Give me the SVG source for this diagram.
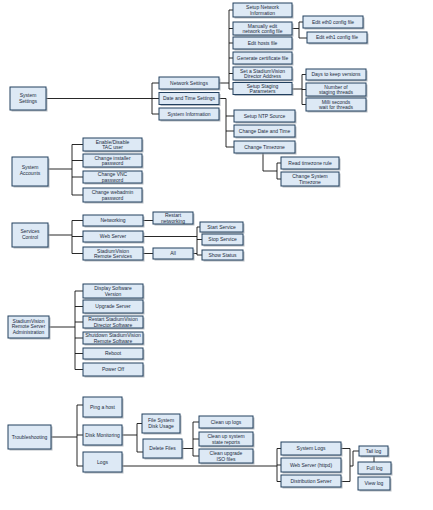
<svg xmlns="http://www.w3.org/2000/svg" width="433" height="510" viewBox="0 0 433 510">
<defs>
<style>
.b{fill:#dde9f5;stroke:#22405f;stroke-width:1}
.s{fill:#9aa3ad;opacity:0.7}
text{font-family:"Liberation Sans",Arial,sans-serif;font-size:5px;fill:#1c2b3d;text-anchor:middle}
.c path{fill:none;stroke:#111;stroke-width:0.9}
</style>
</defs>
<rect width="433" height="510" fill="#fff"/>
<g class="c" id="connectors">
<path d="M46,98.5H152M152,83V114M152,83H159M152,98.5H159M152,114H159"/>
<path d="M219,83H229M229,10V89M229,10H233M229,28.5H233M229,43H233M229,58H233M229,73.5H233M229,89H233"/>
<path d="M292,28.5H299M299,22V38M299,22H303M299,38H307"/>
<path d="M292,89H302M302,74.5V104.5M302,74.5H306M302,89.5H306M302,104.5H306"/>
<path d="M219,98.5H226M226,98.5V147M226,116H234M226,131H234M226,147H234"/>
<path d="M263,153V171H277M277,163V179M277,163H281M277,179H281"/>
<path d="M48,169H72M72,144.5V195M72,144.5H83M72,160.5H83M72,177H83M72,195H83"/>
<path d="M48,235H72M72,220.5V253.5M72,220.5H83M72,236.5H83M72,253.5H83"/>
<path d="M143,220.5H153M143,236.5H197M143,253.5H153M193,253.5H197M197,227V255M197,227H200M197,239.5H202M197,255H202"/>
<path d="M49,327H75M75,291V369.5M75,291H83M75,306.5H83M75,322H83M75,338H83M75,353.5H83M75,369.5H83"/>
<path d="M51,437H77M77,405V466M77,405H83M77,435H83M77,466H83"/>
<path d="M122,435H137M137,423.5V452M137,423.5H142M137,452H143"/>
<path d="M182,448.5H193M193,422V456M193,422H199M193,439H199M193,456H199"/>
<path d="M122,466H277M277,448.5V481.5M277,448.5H281M277,465H281M277,481.5H281"/>
<path d="M341,448.5H350M341,481.5H350M350,448.5V481.5M350,466H353M353,451V466M353,451H359M374,456V462"/>
</g>
<g id="n_system_settings"><rect class="s" x="11.5" y="88.5" width="36" height="23"/><rect class="b" x="10" y="87" width="36" height="23"/><text x="28" y="97">System</text><text x="28" y="103">Settings</text></g>
<g id="n_network_settings"><rect class="s" x="160.5" y="78.5" width="60" height="12"/><rect class="b" x="159" y="77" width="60" height="12"/><text x="189" y="84.8">Network Settings</text></g>
<g id="n_date_time"><rect class="s" x="160.5" y="94" width="60" height="12"/><rect class="b" x="159" y="92.5" width="60" height="12"/><text x="189" y="100.3">Date and Time Settings</text></g>
<g id="n_system_info"><rect class="s" x="160.5" y="109.5" width="60" height="12"/><rect class="b" x="159" y="108" width="60" height="12"/><text x="189" y="115.8">System Information</text></g>
<g id="n_setup_net"><rect class="s" x="234.5" y="4.5" width="59" height="14"/><rect class="b" x="233" y="3" width="59" height="14"/><text x="262.5" y="9">Setup Network</text><text x="262.5" y="15">Information</text></g>
<g id="n_manual_edit"><rect class="s" x="234.5" y="23.5" width="59" height="13"/><rect class="b" x="233" y="22" width="59" height="13"/><text x="262.5" y="27.5">Manually edit</text><text x="262.5" y="33.3">network config file</text></g>
<g id="n_hosts"><rect class="s" x="234.5" y="38.5" width="59" height="12"/><rect class="b" x="233" y="37" width="59" height="12"/><text x="262.5" y="44.8">Edit hosts file</text></g>
<g id="n_cert"><rect class="s" x="234.5" y="53.5" width="59" height="12"/><rect class="b" x="233" y="52" width="59" height="12"/><text x="262.5" y="59.8">Generate certificate file</text></g>
<g id="n_svd_addr"><rect class="s" x="234.5" y="68.5" width="59" height="13"/><rect class="b" x="233" y="67" width="59" height="13"/><text x="262.5" y="72.5">Set a StadiumVision</text><text x="262.5" y="78.3">Director Address</text></g>
<g id="n_staging"><rect class="s" x="234.5" y="84" width="59" height="12"/><rect class="b" x="233" y="82.5" width="59" height="12"/><text x="262.5" y="87.6">Setup Staging</text><text x="262.5" y="93">Parameters</text></g>
<g id="n_eth0"><rect class="s" x="304.5" y="17.5" width="60" height="12"/><rect class="b" x="303" y="16" width="60" height="12"/><text x="333" y="23.8">Edit eth0 config file</text></g>
<g id="n_eth1"><rect class="s" x="308.5" y="33.5" width="60" height="11"/><rect class="b" x="307" y="32" width="60" height="11"/><text x="337" y="39.3">Edit eth1 config file</text></g>
<g id="n_days"><rect class="s" x="307.5" y="70.5" width="60" height="11"/><rect class="b" x="306" y="69" width="60" height="11"/><text x="336" y="76.3">Days to keep versions</text></g>
<g id="n_threads"><rect class="s" x="307.5" y="84.5" width="60" height="13"/><rect class="b" x="306" y="83" width="60" height="13"/><text x="336" y="88.5">Number of</text><text x="336" y="94.3">staging threads</text></g>
<g id="n_millis"><rect class="s" x="307.5" y="99.5" width="60" height="13"/><rect class="b" x="306" y="98" width="60" height="13"/><text x="336" y="103.5">Milli seconds</text><text x="336" y="109.3">wait for threads</text></g>
<g id="n_ntp"><rect class="s" x="235.5" y="111.5" width="61" height="12"/><rect class="b" x="234" y="110" width="61" height="12"/><text x="264.5" y="117.8">Setup NTP Source</text></g>
<g id="n_chg_date"><rect class="s" x="235.5" y="126.5" width="61" height="12"/><rect class="b" x="234" y="125" width="61" height="12"/><text x="264.5" y="132.8">Change Date and Time</text></g>
<g id="n_chg_tz"><rect class="s" x="235.5" y="142.5" width="61" height="12"/><rect class="b" x="234" y="141" width="61" height="12"/><text x="264.5" y="148.8">Change Timezone</text></g>
<g id="n_read_tz"><rect class="s" x="282.5" y="158.5" width="58" height="12"/><rect class="b" x="281" y="157" width="58" height="12"/><text x="310" y="164.8">Read timezone rule</text></g>
<g id="n_sys_tz"><rect class="s" x="282.5" y="173.5" width="58" height="14"/><rect class="b" x="281" y="172" width="58" height="14"/><text x="310" y="178">Change System</text><text x="310" y="184">Timezone</text></g>
<g id="n_sys_accounts"><rect class="s" x="13.5" y="158.5" width="36" height="29"/><rect class="b" x="12" y="157" width="36" height="29"/><text x="30" y="168.5">System</text><text x="30" y="174.5">Accounts</text></g>
<g id="n_tac"><rect class="s" x="84.5" y="139.5" width="59" height="13"/><rect class="b" x="83" y="138" width="59" height="13"/><text x="112.5" y="143.5">Enable/Disable</text><text x="112.5" y="149.3">TAC user</text></g>
<g id="n_installer"><rect class="s" x="84.5" y="155.5" width="59" height="13"/><rect class="b" x="83" y="154" width="59" height="13"/><text x="112.5" y="159.5">Change installer</text><text x="112.5" y="165.3">password</text></g>
<g id="n_vnc"><rect class="s" x="84.5" y="172.5" width="59" height="12"/><rect class="b" x="83" y="171" width="59" height="12"/><text x="112.5" y="176">Change VNC</text><text x="112.5" y="181.6">password</text></g>
<g id="n_webadmin"><rect class="s" x="84.5" y="189.5" width="59" height="14"/><rect class="b" x="83" y="188" width="59" height="14"/><text x="112.5" y="194">Change webadmin</text><text x="112.5" y="200">password</text></g>
<g id="n_services"><rect class="s" x="13.5" y="224.5" width="36" height="24"/><rect class="b" x="12" y="223" width="36" height="24"/><text x="30" y="232.5">Services</text><text x="30" y="238.5">Control</text></g>
<g id="n_networking"><rect class="s" x="84.5" y="216.5" width="60" height="11"/><rect class="b" x="83" y="215" width="60" height="11"/><text x="113" y="222.3">Networking</text></g>
<g id="n_webserver"><rect class="s" x="84.5" y="232.5" width="60" height="11"/><rect class="b" x="83" y="231" width="60" height="11"/><text x="113" y="238.3">Web Server</text></g>
<g id="n_svrs"><rect class="s" x="84.5" y="248.5" width="60" height="13"/><rect class="b" x="83" y="247" width="60" height="13"/><text x="113" y="252.5">StadiumVision</text><text x="113" y="258.3">Remote Services</text></g>
<g id="n_restart_net"><rect class="s" x="154.5" y="213.5" width="40" height="12"/><rect class="b" x="153" y="212" width="40" height="12"/><text x="173" y="217">Restart</text><text x="173" y="222.6">networking</text></g>
<g id="n_all"><rect class="s" x="154.5" y="249.5" width="40" height="11"/><rect class="b" x="153" y="248" width="40" height="11"/><text x="173" y="255.3">All</text></g>
<g id="n_start"><rect class="s" x="201.5" y="223.5" width="43" height="10"/><rect class="b" x="200" y="222" width="43" height="10"/><text x="221.5" y="228.8">Start Service</text></g>
<g id="n_stop"><rect class="s" x="203.5" y="235.5" width="41" height="11"/><rect class="b" x="202" y="234" width="41" height="11"/><text x="222.5" y="241.3">Stop Service</text></g>
<g id="n_status"><rect class="s" x="203.5" y="251.5" width="41" height="10"/><rect class="b" x="202" y="250" width="41" height="10"/><text x="222.5" y="256.8">Show Status</text></g>
<g id="n_svrsa"><rect class="s" x="9.5" y="317.5" width="41" height="22"/><rect class="b" x="8" y="316" width="41" height="22"/><text x="28.5" y="322.5">StadiumVision</text><text x="28.5" y="328.3">Remote Server</text><text x="28.5" y="334.1">Administration</text></g>
<g id="n_version"><rect class="s" x="84.5" y="285.5" width="60" height="14"/><rect class="b" x="83" y="284" width="60" height="14"/><text x="113" y="290">Display Software</text><text x="113" y="296">Version</text></g>
<g id="n_upgrade"><rect class="s" x="84.5" y="301.5" width="60" height="13"/><rect class="b" x="83" y="300" width="60" height="13"/><text x="113" y="308.3">Upgrade Server</text></g>
<g id="n_restart_svd"><rect class="s" x="84.5" y="317.5" width="60" height="12"/><rect class="b" x="83" y="316" width="60" height="12"/><text x="113" y="321">Restart StadiumVision</text><text x="113" y="326.6">Director Software</text></g>
<g id="n_shutdown"><rect class="s" x="84.5" y="333.5" width="60" height="12"/><rect class="b" x="83" y="332" width="60" height="12"/><text x="113" y="337">Shutdown StadiumVision</text><text x="113" y="342.6">Remote Software</text></g>
<g id="n_reboot"><rect class="s" x="84.5" y="349.5" width="60" height="11"/><rect class="b" x="83" y="348" width="60" height="11"/><text x="113" y="355.3">Reboot</text></g>
<g id="n_poweroff"><rect class="s" x="84.5" y="364.5" width="60" height="13"/><rect class="b" x="83" y="363" width="60" height="13"/><text x="113" y="371.3">Power Off</text></g>
<g id="n_troubleshooting"><rect class="s" x="9.5" y="426.5" width="43" height="24"/><rect class="b" x="8" y="425" width="43" height="24"/><text x="29.5" y="438.8">Troubleshooting</text></g>
<g id="n_ping"><rect class="s" x="84.5" y="398.5" width="39" height="20"/><rect class="b" x="83" y="397" width="39" height="20"/><text x="102.5" y="408.8">Ping a host</text></g>
<g id="n_disk"><rect class="s" x="84.5" y="426.5" width="39" height="20"/><rect class="b" x="83" y="425" width="39" height="20"/><text x="102.5" y="436.8">Disk Monitoring</text></g>
<g id="n_logs"><rect class="s" x="84.5" y="453.5" width="39" height="20"/><rect class="b" x="83" y="452" width="39" height="20"/><text x="102.5" y="463.8">Logs</text></g>
<g id="n_fsusage"><rect class="s" x="143.5" y="415.5" width="38" height="19"/><rect class="b" x="142" y="414" width="38" height="19"/><text x="161" y="422">File System</text><text x="161" y="428">Disk Usage</text></g>
<g id="n_delete"><rect class="s" x="144.5" y="440.5" width="39" height="19"/><rect class="b" x="143" y="439" width="39" height="19"/><text x="162.5" y="450.3">Delete Files</text></g>
<g id="n_clean_logs"><rect class="s" x="200.5" y="417.5" width="54" height="12"/><rect class="b" x="199" y="416" width="54" height="12"/><text x="226" y="423.8">Clean up logs</text></g>
<g id="n_clean_reports"><rect class="s" x="200.5" y="433.5" width="54" height="14"/><rect class="b" x="199" y="432" width="54" height="14"/><text x="226" y="438">Clean up system</text><text x="226" y="444">state reports</text></g>
<g id="n_clean_iso"><rect class="s" x="200.5" y="450.5" width="54" height="14"/><rect class="b" x="199" y="449" width="54" height="14"/><text x="226" y="455">Clean upgrade</text><text x="226" y="461">ISO files</text></g>
<g id="n_syslogs"><rect class="s" x="282.5" y="443.5" width="60" height="13"/><rect class="b" x="281" y="442" width="60" height="13"/><text x="311" y="450.3">System Logs</text></g>
<g id="n_weblogs"><rect class="s" x="282.5" y="459.5" width="60" height="14"/><rect class="b" x="281" y="458" width="60" height="14"/><text x="311" y="466.8">Web Server (httpd)</text></g>
<g id="n_distlogs"><rect class="s" x="282.5" y="476.5" width="60" height="12"/><rect class="b" x="281" y="475" width="60" height="12"/><text x="311" y="482.8">Distribution Server</text></g>
<g id="n_tail"><rect class="s" x="360.5" y="447.5" width="29" height="10"/><rect class="b" x="359" y="446" width="29" height="10"/><text x="373.5" y="452.8">Tail log</text></g>
<g id="n_full"><rect class="s" x="359.5" y="463.5" width="33" height="12"/><rect class="b" x="358" y="462" width="33" height="12"/><text x="374.5" y="469.8">Full log</text></g>
<g id="n_view"><rect class="s" x="359.5" y="478.5" width="32" height="13"/><rect class="b" x="358" y="477" width="32" height="13"/><text x="374" y="485.3">View log</text></g>
</svg>
